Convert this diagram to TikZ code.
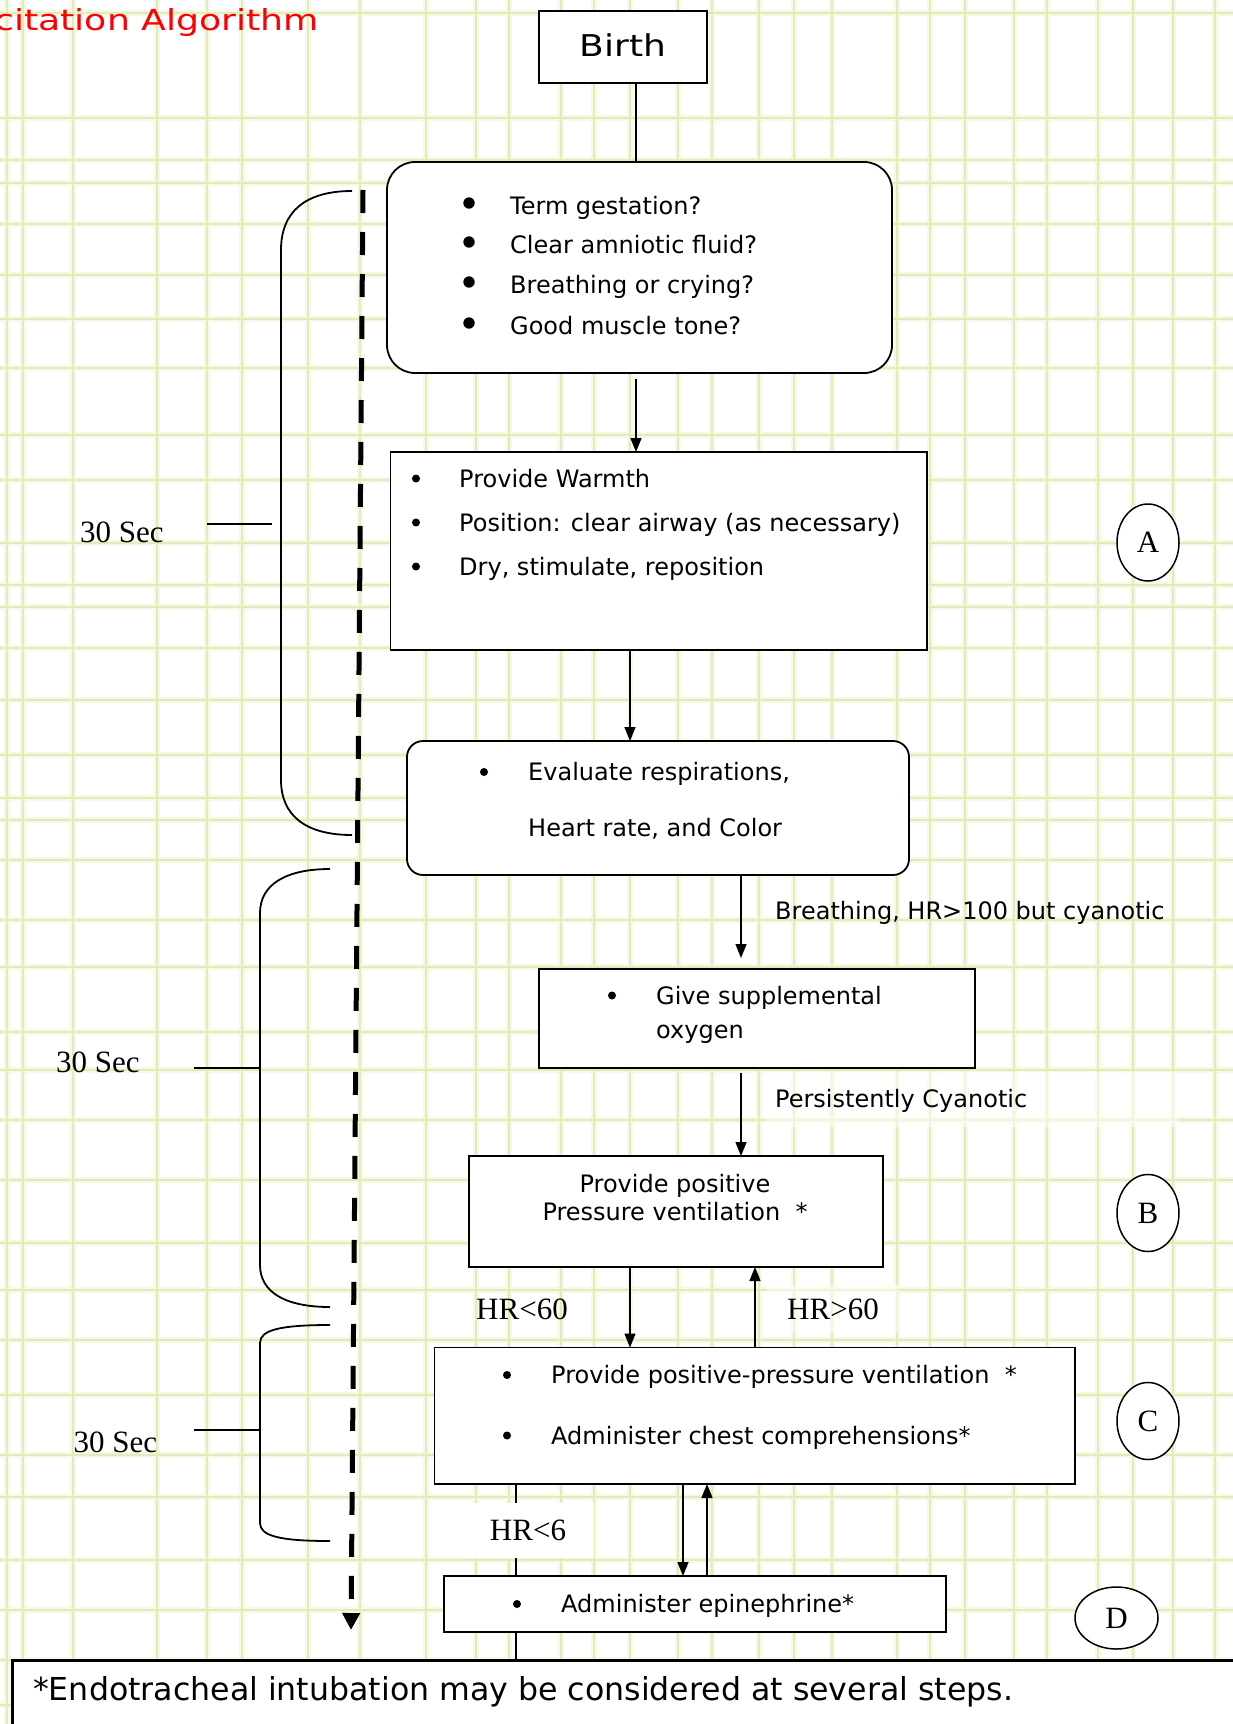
\documentclass[tikz,border=0pt]{standalone}
\usepackage{fontspec}
\usetikzlibrary{arrows.meta,shapes.geometric}
\newfontfamily\sansf{DejaVu Sans}
\newfontfamily\titlef[FakeStretch=1.25]{DejaVu Sans}
\newfontfamily\birthf[FakeStretch=1.2]{DejaVu Sans}
\newfontfamily\serf{Liberation Serif}
\definecolor{gridcore}{RGB}{226,236,184}
\definecolor{gridhalo}{RGB}{246,249,230}
\definecolor{titlered}{RGB}{255,0,0}

\begin{document}
\begin{tikzpicture}[x=1pt,y=-1pt,
  box/.style={draw, line width=1.8pt, fill=white, inner sep=0pt, outer sep=0pt},
  rbox/.style={box, rounded corners=#1},
  item/.style={font=\sansf\fontsize{24}{29}\selectfont, anchor=mid west, inner sep=0pt, yshift=-6.5pt},
  serlbl/.style={font=\serf\fontsize{31}{36}\selectfont, inner sep=0pt},
  flow/.style={line width=1.4pt, -{Triangle[width=11pt,length=14pt]}},
  plain/.style={line width=1.4pt},
  brace/.style={line width=1.8pt},
  stage/.style={ellipse, draw, line width=1.5pt, fill=white, inner sep=0pt,
    minimum width=62pt, minimum height=77pt, font=\serf\fontsize{31}{36}\selectfont},
]
% page and graph-paper background
\useasboundingbox (0,0) rectangle (1233,1724);
\fill[white] (0,0) rectangle (1233,1724);
\foreach \gx in {7,23,73,157,207,242,308,360,426,476,509,561,594,630,678,712,759,794,832,897,930,965,1014,1047,1098,1133,1173,1215}
  {\draw[gridhalo, line width=6pt] (\gx,0) -- (\gx,1724);}
\foreach \gy in {13,118,160,183,224,275,319,368,435,480,543,585,607,648,700,755,798,820,860,920,967,1032,1070,1120,1180,1243,1290,1340,1395,1455,1497,1560,1610,1660,1705}
  {\draw[gridhalo, line width=6pt] (0,\gy) -- (1233,\gy);}
\foreach \gx in {7,23,73,157,207,242,308,360,426,476,509,561,594,630,678,712,759,794,832,897,930,965,1014,1047,1098,1133,1173,1215}
  {\draw[gridcore, line width=1.2pt] (\gx,0) -- (\gx,1724);}
\foreach \gy in {13,118,160,183,224,275,319,368,435,480,543,585,607,648,700,755,798,820,860,920,967,1032,1070,1120,1180,1243,1290,1340,1395,1455,1497,1560,1610,1660,1705}
  {\draw[gridcore, line width=1.2pt] (0,\gy) -- (1233,\gy);}

% title
\node[font=\titlef\fontsize{29}{34}\selectfont, text=titlered, anchor=base west, inner sep=0pt] (title) at (-6,30) {citation Algorithm};

% connector columns
\coordinate (xa) at (636,0);
\coordinate (xb) at (630,0);
\coordinate (xc) at (741,0);
\coordinate (xd) at (755,0);
\coordinate (xe) at (683,0);
\coordinate (xf) at (707,0);
\coordinate (xg) at (516,0);

% boxes
\node[box, minimum width=168pt, minimum height=72pt, font=\birthf\fontsize{30}{34}\selectfont] (birth) at (623,47) {\raisebox{4.4pt}{Birth}};
\node[rbox=28pt, minimum width=505pt, minimum height=211pt] (q) at (639.5,267.5) {};
\node[box, minimum width=536.5pt, minimum height=198pt] (warm) at (658.75,551) {};
\node[rbox=16pt, minimum width=502pt, minimum height=134pt] (eval) at (658,808) {};
\node[box, minimum width=436pt, minimum height=99pt] (oxy) at (757,1018.5) {};
\node[box, minimum width=414.4pt, minimum height=111pt] (ppv) at (675.8,1211.5) {};
\node[box, minimum width=640.5pt, minimum height=136.5pt] (cpr) at (754.75,1415.75) {};
\node[box, minimum width=502pt, minimum height=56pt] (epi) at (695,1604) {};
\node[draw, line width=3pt, fill=white, minimum width=1300pt, minimum height=120pt, anchor=north west, inner sep=0pt] (foot) at (11,1659) {};

% initial assessment
\foreach \yy in {206,245,285,326} {\fill (469,\yy-3) circle (5.7pt);}
\node[item] (q1) at (510,206) {Term gestation?};
\node[item] (q2) at (510,245) {Clear amniotic fluid?};
\node[item] (q3) at (510,285) {Breathing or crying?};
\node[item] (q4) at (510,326) {Good muscle tone?};

% initial steps
\foreach \yy in {478.5,522.5,566.5} {\fill (416,\yy) circle (4pt);}
\node[item] (w1) at (459,478.5) {Provide Warmth};
\node[item] (w2) at (459,522.5) {Position: clear airway (as necessary)};
\node[item] (w3) at (459,566.5) {Dry, stimulate, reposition};

% evaluation
\fill (484,772) circle (4pt);
\node[item] (e1) at (528,772) {Evaluate respirations,};
\node[item] (e2) at (528,828) {Heart rate, and Color};

% oxygen
\fill (612,995.5) circle (4pt);
\node[item] (o1) at (656,995.5) {Give supplemental};
\node[item] (o2) at (656,1030) {oxygen};

% positive pressure ventilation
\node[font=\sansf\fontsize{24}{28}\selectfont, align=center, inner sep=0pt] (ppvtext) at (675,1198) {Provide positive\\Pressure ventilation\ \ *};

% ventilation and compressions
\fill (507,1375) circle (4pt);
\fill (507,1435.5) circle (4pt);
\node[item] (c1) at (551,1375) {Provide positive-pressure ventilation\ \ *};
\node[item] (c2) at (551,1435.5) {Administer chest comprehensions*};

% epinephrine
\fill (517,1604) circle (4pt);
\node[item] (d1) at (561,1604) {Administer epinephrine*};

% footer text
\node[font=\sansf\fontsize{31.6}{38}\selectfont, anchor=mid west, inner sep=0pt, yshift=-7.5pt] (foottext) at (33,1691) {*Endotracheal intubation may be considered at several steps.};

% connectors
\draw[plain] (birth.south -| xa) -- (q.north -| xa);
\draw[flow, shorten <=6pt] (q.south -| xa) -- (warm.north -| xa);
\draw[flow] (warm.south -| xb) -- (eval.north -| xb);
\draw[flow, shorten >=11pt] (eval.south -| xc) -- (oxy.north -| xc);
\draw[flow, shorten <=5pt] (oxy.south -| xc) -- (ppv.north -| xc);
\draw[flow] (ppv.south -| xb) -- (cpr.north -| xb);
\draw[flow] (cpr.north -| xd) -- (ppv.south -| xd);
\draw[flow] (cpr.south -| xe) -- (epi.north -| xe);
\draw[flow] (epi.north -| xf) -- (cpr.south -| xf);
\draw[plain] (cpr.south -| xg) -- (epi.north -| xg);
\draw[plain] (epi.south -| xg) -- (foot.north -| xg);

% connector labels
\node[item] (lbreath) at (775,911) {Breathing, HR>100 but cyanotic};
\node[fill=white, fill opacity=0.5, minimum width=413pt, minimum height=55pt, anchor=west, inner sep=0pt] (cyanbg) at (765,1099.5) {};
\node[item] (lcyan) at (775,1099) {Persistently Cyanotic};
\node[serlbl] (hrlo) at (522,1309) {HR<60};
\node[serlbl, fill=white, fill opacity=0.5, text opacity=1, inner xsep=20pt, inner ysep=14pt] (hrhi) at (833,1309) {HR>60};
\node[serlbl, fill=white, minimum width=132pt, minimum height=55pt] (hrsix) at (528,1530) {HR<6};

% stage markers
\node[stage] (sa) at (1148,542.5) {A};
\node[stage] (sb) at (1148,1213) {B};
\node[stage] (sc) at (1148,1421) {C};
\node[stage, minimum width=83pt, minimum height=62pt] (sd) at (1116.5,1618) {D};

% time line
\coordinate (dtop) at (363,190);
\coordinate (dbot) at (351,1630);
\draw[line width=5pt, dash pattern=on 23pt off 19pt, -{Triangle[width=17pt,length=17pt]}] (dtop) -- (dbot);

% 30-second brackets
\draw[brace] (352,191) .. controls (305,191) and (281,212) .. (281,250) -- (281,780) .. controls (281,815) and (305,835) .. (352,835);
\draw[brace] (207,524) -- (272,524);
\draw[brace] (330,869) .. controls (285,869) and (260,885) .. (260,913) -- (260,1265) .. controls (260,1292) and (285,1307) .. (330,1307);
\draw[brace] (194,1068) -- (260,1068);
\draw[brace] (330,1325) .. controls (280,1325) and (260,1330) .. (260,1343) -- (260,1523) .. controls (260,1536) and (280,1541) .. (330,1541);
\draw[brace] (194,1430) -- (260,1430);
\node[serlbl] (sec1) at (122,532) {30 Sec};
\node[serlbl] (sec2) at (98,1062) {30 Sec};
\node[serlbl] (sec3) at (115.5,1442) {30 Sec};
\end{tikzpicture}
\end{document}
